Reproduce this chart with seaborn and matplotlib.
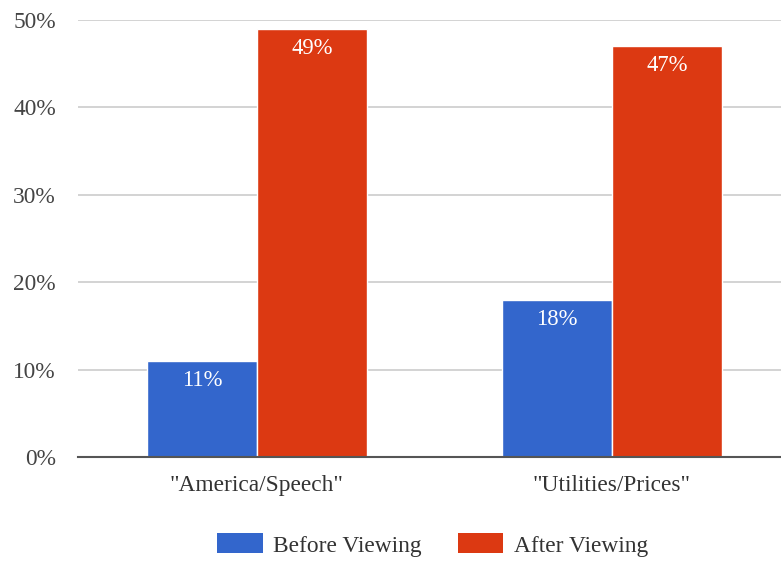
import matplotlib
matplotlib.use("Agg")
import matplotlib.pyplot as plt
import seaborn as sns
import pandas as pd
from matplotlib.patches import Patch

categories = ['"America/Speech"', '"Utilities/Prices"']
series_names = ["Before Viewing", "After Viewing"]
before = [11, 18]
after = [49, 47]
yticks = [0, 10, 20, 30, 40, 50]
colors = ["#3366CC", "#DC3912"]

df = pd.DataFrame({
    "category": categories * 2,
    "series": [series_names[0]] * 2 + [series_names[1]] * 2,
    "value": before + after,
})

sns.set_style("white")
plt.rcParams["font.family"] = ["Liberation Serif", "DejaVu Serif"]

FS = 16.8
fig = plt.figure(figsize=(7.81, 5.61), dpi=100)
ax = fig.add_axes([78 / 781, 1 - 457 / 561, 1 - 78 / 781, (457 - 20) / 561])

sns.barplot(data=df, x="category", y="value", hue="series", palette=colors,
            width=0.62, edgecolor="white", linewidth=1.0, ax=ax, legend=False,
            saturation=1)

ax.set_ylim(0, 50)
ax.set_xlim(-0.504, 1.476)
ax.set_yticks(yticks)
ax.set_yticklabels([f"{t}%" for t in yticks])
ax.yaxis.grid(True, color="#cccccc", linewidth=1.2)
ax.set_axisbelow(True)
for s in ["top", "right", "left"]:
    ax.spines[s].set_visible(False)
ax.spines["bottom"].set_color("#555555")
ax.spines["bottom"].set_linewidth(1.5)
ax.tick_params(axis="y", length=0, pad=16, labelsize=FS, labelcolor="#444444")
ax.tick_params(axis="x", length=0, pad=13, labelsize=FS, labelcolor="#333333")
ax.set_xlabel("")
ax.set_ylabel("")

for cont in ax.containers:
    for bar in cont:
        h = bar.get_height()
        ax.annotate(f"{h:.0f}%", (bar.get_x() + bar.get_width() / 2, h),
                    xytext=(0, -6.5), textcoords="offset points",
                    ha="center", va="top", color="white", fontsize=FS - 0.5)

handles = [Patch(facecolor=c, edgecolor="none") for c in colors]
fig.legend(handles, series_names, loc="center", bbox_to_anchor=(433 / 781, 1 - 545 / 561),
           ncol=2, frameon=False, fontsize=FS, handlelength=1.93, handleheight=0.94,
           columnspacing=1.55, handletextpad=0.47, labelcolor="#333333")

fig.savefig("out.png", dpi=100)
